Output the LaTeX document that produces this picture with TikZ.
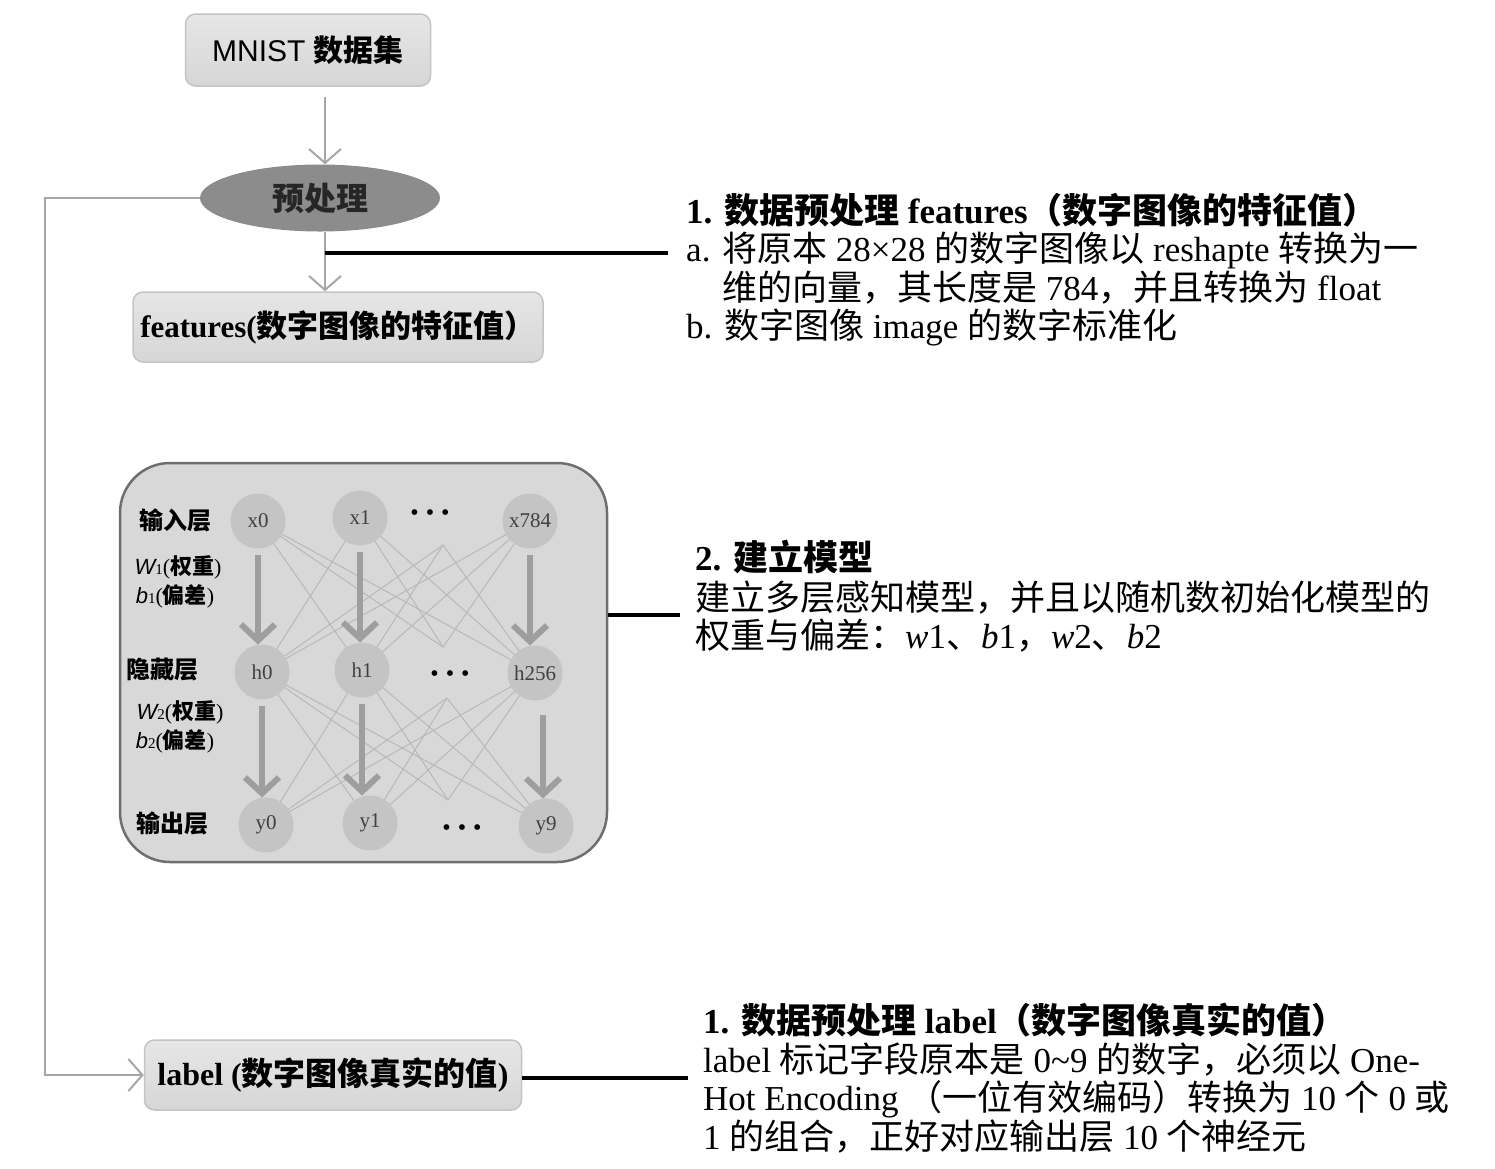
\documentclass[tikz,border=0pt]{standalone}
\usepackage{fontspec}
\setmainfont{Liberation Serif}
\setsansfont{Liberation Sans}
\newfontfamily\cjk{Noto Sans CJK SC}
\newcommand{\zh}[1]{{\cjk #1}}
\usetikzlibrary{positioning}
\usetikzlibrary{shapes.geometric}
\usetikzlibrary{arrows.meta}
\definecolor{boxtop}{HTML}{E6E6E6}
\definecolor{boxbot}{HTML}{D6D6D6}
\definecolor{boxedge}{HTML}{C4C4C4}
\definecolor{netfill}{HTML}{D8D8D8}
\definecolor{netedge}{HTML}{6E6E6E}
\definecolor{neufill}{HTML}{C4C4C4}
\definecolor{linkgray}{HTML}{B8B8B8}
\definecolor{flowgray}{HTML}{A6A6A6}
\definecolor{prepfill}{HTML}{8C8C8C}

\begin{document}
\begin{tikzpicture}[x=1pt,y=-1pt,
	flowbox/.style={draw=boxedge, line width=1.5pt, rounded corners=10pt,
		top color=boxtop, bottom color=boxbot, inner sep=0pt},
	neuron/.style={circle, draw=boxedge, line width=1pt, fill=neufill,
		minimum size=54pt, inner sep=0pt, text=black!75,
		font=\fontsize{21}{21}\selectfont},
	conn/.style={draw=flowgray, line width=2pt,
		-{Straight Barb[length=14pt,width=32pt]}},
	bigarrow/.style={draw=black!38, line width=6pt,
		-{Straight Barb[length=16pt,width=34pt]}, shorten <=6pt},
	link/.style={draw=linkgray, line width=1pt},
	callout/.style={draw=black, line width=3.5pt},
	txt/.style={anchor=west, inner sep=0pt, font=\fontsize{35}{40}\selectfont},
	layer/.style={inner sep=0pt, font=\fontsize{24}{24}\selectfont\bfseries}]
	\useasboundingbox (0,0) rectangle (1495,1168);
	% flow boxes
	\node[flowbox, minimum width=245pt, minimum height=72pt,
		font=\fontsize{30}{30}\selectfont] (mnist) at (308,50)
		{\sffamily MNIST \zh{\bfseries 数据集}};
	\node[ellipse, fill=prepfill, minimum width=240pt, minimum height=67pt,
		text=black!85, font=\fontsize{32}{32}\selectfont\bfseries] (prep) at (320,198)
		{\zh{预处理}};
	\node[flowbox, minimum width=410pt, minimum height=70pt,
		font=\fontsize{31}{31}\selectfont] (feat) at (338,327)
		{\textbf{features(\zh{数字图像的特征值）}}};
	\node[flowbox, minimum width=377pt, minimum height=70pt,
		font=\fontsize{32}{32}\selectfont] (label) at (333,1075)
		{\textbf{label (\zh{数字图像真实的值})}};
	% connectors
	\draw[conn, shorten <=10pt] (mnist.south -| 325,0) -- (prep.north -| 325,0);
	\draw[conn] (prep.south -| 325,0) -- (feat.north -| 325,0);
	\draw[conn] (prep.west) -- ++(-155,0) |- (label.west);
	% network
	\node[draw=netedge, line width=2.5pt, fill=netfill, rounded corners=50pt,
		minimum width=487pt, minimum height=399pt] (net) at (363.5,662.5) {};
	\foreach \n/\x/\y/\t in {x0/258/521/x0, x1/360/518/x1, xn/530/521/x784,
		h0/262/672/h0, h1/362/670/h1, hn/535/673/h256,
		y0/266/825/y0, y1/370/823/y1, yn/546/826/y9}
		\node[neuron] (\n) at (\x,\y) {\t};
	\coordinate (xdot) at (443,545);
	\coordinate (hdot1) at (443,647);
	\coordinate (hdot2) at (447,698);
	\coordinate (ydot) at (448,800);
	\foreach \a [count=\i] in {x0,x1,xdot,xn} {
		\foreach \b [count=\j] in {h0,h1,hdot1,hn} {
			\ifnum\i=\j\else \draw[link] (\a) -- (\b);\fi
		}
	}
	\foreach \a [count=\i] in {h0,h1,hdot2,hn} {
		\foreach \b [count=\j] in {y0,y1,ydot,yn} {
			\ifnum\i=\j\else \draw[link] (\a) -- (\b);\fi
		}
	}
	\foreach \a/\b in {x0/h0, x1/h1, xn/hn, h0/y0, h1/y1}
		\draw[bigarrow] (\a.south) -- (\a.south |- \b.north);
	\draw[bigarrow, shorten <=14pt] (hn.south -| 543,0) -- (yn.north -| 543,0);
	\foreach \n/\x/\y in {dots1/430/515, dots2/450/676, dots3/462/830}
		\node[inner sep=0pt, font=\fontsize{24}{24}\selectfont] (\n) at (\x,\y)
			{\textbullet\hspace{7pt}\textbullet\hspace{7pt}\textbullet};
	% layer labels
	\node[layer] (inl) at (175,520) {\zh{输入层}};
	\node[layer] (hidl) at (162,670) {\zh{隐藏层}};
	\node[layer] (outl) at (172,823) {\zh{输出层}};
	\node[layer, font=\fontsize{22}{22}\selectfont] (w1) at (178,567)
		{{\sffamily\itshape W}{\fontsize{15}{15}\selectfont 1}(\zh{\bfseries 权重})};
	\node[layer, font=\fontsize{22}{22}\selectfont] (b1) at (175,596)
		{{\sffamily\itshape b}{\fontsize{15}{15}\selectfont 1}(\zh{\bfseries 偏差})};
	\node[layer, font=\fontsize{22}{22}\selectfont] (w2) at (180,712)
		{{\sffamily\itshape W}{\fontsize{15}{15}\selectfont 2}(\zh{\bfseries 权重})};
	\node[layer, font=\fontsize{22}{22}\selectfont] (b2) at (175,741)
		{{\sffamily\itshape b}{\fontsize{15}{15}\selectfont 2}(\zh{\bfseries 偏差})};
	% notes
	\node[txt] (t1) at (686,210) {\textbf{1. \zh{数据预处理} features\zh{（数字图像的特征值）}}};
	\node[txt] (t1a) at (686,250) {a. \zh{将原本} 28×28 \zh{的数字图像以} reshapte \zh{转换为一}};
	\node[txt] (t1b) at (722,288) {\zh{维的向量，其长度是} 784\zh{，并且转换为} float};
	\node[txt] (t1c) at (686,327) {b. \zh{数字图像} image \zh{的数字标准化}};
	\node[txt] (t2) at (695,557) {\textbf{2. \zh{建立模型}}};
	\node[txt] (t2a) at (695,598) {\zh{建立多层感知模型，并且以随机数初始化模型的}};
	\node[txt] (t2b) at (695,636) {\zh{权重与偏差：}\textit{w}1\zh{、}\textit{b}1\zh{，}\textit{w}2\zh{、}\textit{b}2};
	\node[txt] (t3) at (703,1020) {\textbf{1. \zh{数据预处理} label\zh{（数字图像真实的值）}}};
	\node[txt] (t3a) at (703,1060) {label \zh{标记字段原本是} 0\textasciitilde9 \zh{的数字，必须以} One-};
	\node[txt] (t3b) at (703,1099) {Hot Encoding \zh{（一位有效编码）转换为} 10 \zh{个} 0 \zh{或}};
	\node[txt] (t3c) at (703,1137) {1 \zh{的组合，正好对应输出层} 10 \zh{个神经元}};
	% callout lines
	\coordinate (c1s) at (325,253);
	\coordinate (c1) at (668,253);
	\coordinate (c2) at (680,615);
	\coordinate (c3) at (688,1078);
	\draw[callout] (c1s) -- (c1);
	\draw[callout] (net.east |- c2) -- (c2);
	\draw[callout] (label.east |- c3) -- (c3);
\end{tikzpicture}
\end{document}
